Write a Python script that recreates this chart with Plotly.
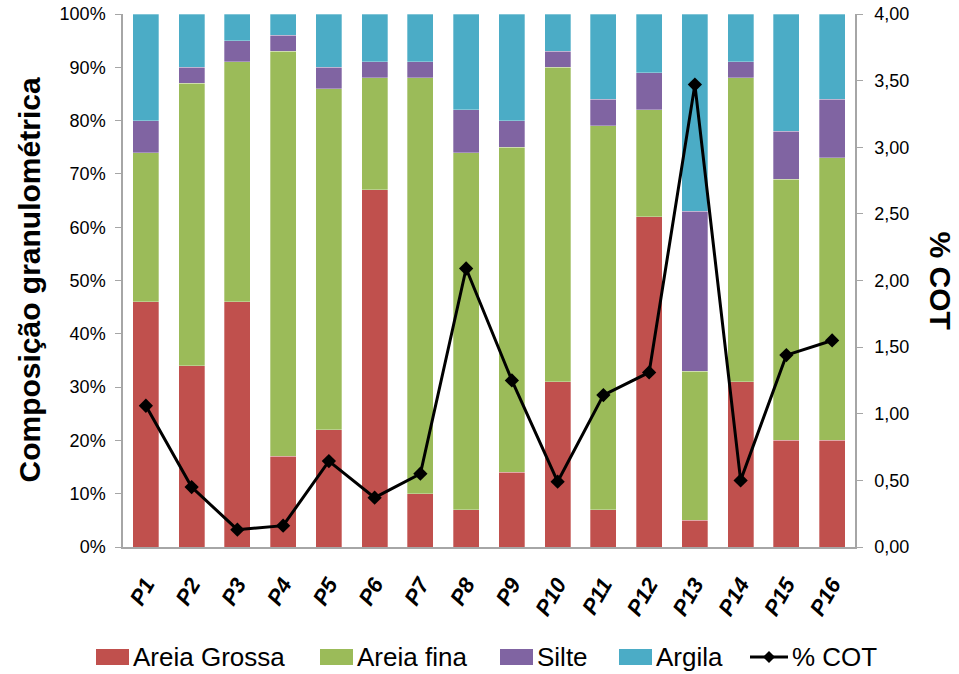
import plotly.graph_objects as go

# Sample points
pontos = ["P1", "P2", "P3", "P4", "P5", "P6", "P7", "P8",
          "P9", "P10", "P11", "P12", "P13", "P14", "P15", "P16"]

# Granulometric fractions (%)
areia_grossa = [46, 34, 46, 17, 22, 67, 10, 7, 14, 31, 7, 62, 5, 31, 20, 20]
areia_fina = [28, 53, 45, 76, 64, 21, 78, 67, 61, 59, 72, 20, 28, 57, 49, 53]
silte = [6, 3, 4, 3, 4, 3, 3, 8, 5, 3, 5, 7, 30, 3, 9, 11]
argila = [20, 10, 5, 4, 10, 9, 9, 18, 20, 7, 16, 11, 37, 9, 22, 16]

# Total organic carbon (%)
cot = [1.06, 0.45, 0.13, 0.16, 0.645, 0.37, 0.55, 2.09,
       1.25, 0.49, 1.14, 1.31, 3.47, 0.50, 1.44, 1.55]

# Axis ticks
pct_ticks = list(range(0, 101, 10))
pct_labels = [f"{v}%" for v in pct_ticks]
cot_ticks = [0, 0.5, 1, 1.5, 2, 2.5, 3, 3.5, 4]

FONT = "Arial, Liberation Sans, sans-serif"
AXIS_GRAY = "#a6a6a6"
W, H = 959, 674
ML, MR, MT, MB = 123, 104, 14, 127
PW, PH = W - ML - MR, H - MT - MB

series = [
    ("Areia Grossa", areia_grossa, "#C0504D"),
    ("Areia fina", areia_fina, "#9BBB59"),
    ("Silte", silte, "#8064A2"),
    ("Argila", argila, "#4BACC6"),
]

fig = go.Figure()
for name, vals, color in series:
    fig.add_trace(go.Bar(
        x=pontos, y=vals, name=name, showlegend=False,
        marker=dict(color=color, line=dict(color="rgba(255,255,255,0.5)", width=0.6)),
        yaxis="y",
    ))

fig.add_trace(go.Scatter(
    x=pontos, y=cot, name="% COT", yaxis="y2", showlegend=False,
    mode="lines+markers",
    line=dict(color="black", width=3),
    marker=dict(symbol="diamond", size=11, color="black"),
))


# Legend row below the chart, laid out in pixel units converted to paper units
def px_x(px):
    return (px - ML) / PW


def px_y(py):
    return (H - MB - py) / PH


shapes, annotations = [], []
legend_y = 657
key_w, key_h = 33, 16
key_starts = [96, 320, 500, 619]
for (name, _, color), x0 in zip(series, key_starts):
    shapes.append(dict(
        type="rect", xref="paper", yref="paper",
        x0=px_x(x0), x1=px_x(x0 + key_w),
        y0=px_y(legend_y + key_h / 2), y1=px_y(legend_y - key_h / 2),
        fillcolor=color, line=dict(width=0),
    ))
    annotations.append(dict(
        text=name, xref="paper", yref="paper",
        x=px_x(x0 + key_w + 2), y=px_y(legend_y),
        xanchor="left", yanchor="middle", showarrow=False,
        font=dict(size=26),
    ))

line_x0, line_x1 = 750, 788
shapes.append(dict(
    type="line", xref="paper", yref="paper",
    x0=px_x(line_x0), x1=px_x(line_x1), y0=px_y(legend_y), y1=px_y(legend_y),
    line=dict(color="black", width=3),
))
mid = (line_x0 + line_x1) / 2
d = 6
shapes.append(dict(
    type="path", xref="paper", yref="paper",
    path=(f"M {px_x(mid - d)},{px_y(legend_y)} L {px_x(mid)},{px_y(legend_y - d)} "
          f"L {px_x(mid + d)},{px_y(legend_y)} L {px_x(mid)},{px_y(legend_y + d)} Z"),
    fillcolor="black", line=dict(width=0),
))
annotations.append(dict(
    text="% COT", xref="paper", yref="paper",
    x=px_x(line_x1 + 2), y=px_y(legend_y),
    xanchor="left", yanchor="middle", showarrow=False, font=dict(size=26),
))

# Axis titles
annotations += [
    dict(text="<b>Composição granulométrica</b>", xref="paper", yref="paper",
         x=px_x(29), y=0.5, xanchor="center", yanchor="middle",
         textangle=-90, showarrow=False, font=dict(size=30)),
    dict(text="<b>% COT</b>", xref="paper", yref="paper",
         x=px_x(940), y=0.5, xanchor="center", yanchor="middle",
         textangle=90, showarrow=False, font=dict(size=30)),
]

fig.update_layout(
    width=W, height=H,
    margin=dict(l=ML, r=MR, t=MT, b=MB, autoexpand=False),
    paper_bgcolor="white", plot_bgcolor="white",
    barmode="stack", bargap=0.43,
    separators=",.",
    font=dict(family=FONT, color="black", size=18),
    showlegend=False,
    xaxis=dict(
        type="category", range=[-0.5, len(pontos) - 0.5],
        showline=True, linecolor=AXIS_GRAY, linewidth=1.5,
        ticks="", tickangle=-60, automargin=False, ticklabelstandoff=14,
        tickfont=dict(size=22, family=FONT, weight="bold", style="italic"),
        showgrid=False, zeroline=False,
    ),
    yaxis=dict(
        range=[0, 100], tickvals=pct_ticks, ticktext=pct_labels,
        showline=True, linecolor=AXIS_GRAY, linewidth=1.5, automargin=False,
        ticks="outside", tickcolor=AXIS_GRAY, ticklen=6, ticklabelstandoff=6,
        showgrid=False, zeroline=False,
        tickfont=dict(size=18),
    ),
    yaxis2=dict(
        range=[0, 4], tickvals=cot_ticks,
        tickformat=".2f", overlaying="y", side="right", automargin=False,
        showline=True, linecolor=AXIS_GRAY, linewidth=1.5,
        ticks="outside", tickcolor=AXIS_GRAY, ticklen=6, ticklabelstandoff=8,
        showgrid=False, zeroline=False,
        tickfont=dict(size=18),
    ),
    shapes=shapes,
    annotations=annotations,
)

fig.write_html("out.html")
